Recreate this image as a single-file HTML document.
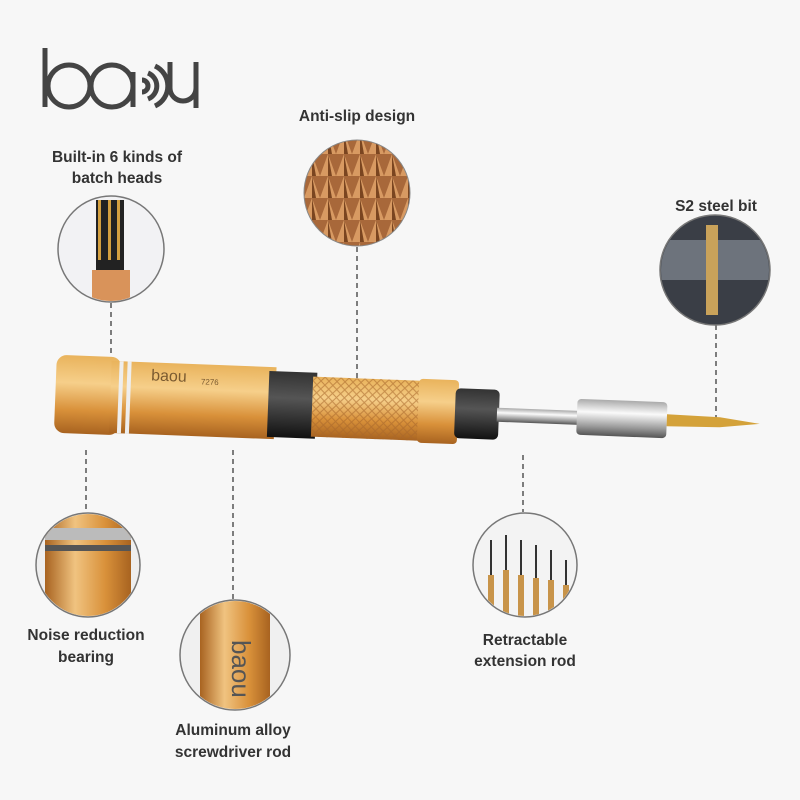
<!DOCTYPE html><html><head><style>body{margin:0;background:#f7f7f7}svg{display:block}text{font-family:"Liberation Sans",sans-serif;fill:#333}</style></head><body>
<svg width="800" height="800" viewBox="0 0 800 800">
<defs>
<linearGradient id="g" x1="0" y1="0" x2="0" y2="1"><stop offset="0" stop-color="#e9b35c"/><stop offset=".35" stop-color="#f6cf8a"/><stop offset=".7" stop-color="#d9913a"/><stop offset="1" stop-color="#a86320"/></linearGradient>
<linearGradient id="gh" x1="0" y1="0" x2="1" y2="0"><stop offset="0" stop-color="#a86320"/><stop offset=".35" stop-color="#f0c380"/><stop offset=".7" stop-color="#d9913a"/><stop offset="1" stop-color="#a86320"/></linearGradient>
<linearGradient id="s" x1="0" y1="0" x2="0" y2="1"><stop offset="0" stop-color="#aaa"/><stop offset=".35" stop-color="#fafafa"/><stop offset=".75" stop-color="#999"/><stop offset="1" stop-color="#555"/></linearGradient>
<linearGradient id="k" x1="0" y1="0" x2="0" y2="1"><stop offset="0" stop-color="#333"/><stop offset=".4" stop-color="#555"/><stop offset="1" stop-color="#111"/></linearGradient>
<pattern id="kn" width="8" height="8" patternUnits="userSpaceOnUse"><path d="M0 0L8 8M8 0L0 8" stroke="#a8672a" stroke-width="1" opacity=".6"/></pattern>
<pattern id="dia" width="16" height="22" patternUnits="userSpaceOnUse"><rect width="16" height="22" fill="#a8683a"/><path d="M8 0L16 22H0Z" fill="#d89a62"/><path d="M8 0L12 22H8Z" fill="#7a4520"/></pattern>
<clipPath id="c1"><circle cx="111" cy="249" r="52"/></clipPath>
<clipPath id="c3"><circle cx="715" cy="270" r="54"/></clipPath>
<clipPath id="c4"><circle cx="88" cy="565" r="51"/></clipPath>
<clipPath id="c5"><circle cx="235" cy="655" r="54"/></clipPath>
<clipPath id="c6"><circle cx="525" cy="565" r="51"/></clipPath>
</defs>
<rect width="800" height="800" fill="#f7f7f7"/>
<!-- logo -->
<g stroke="#444" stroke-width="5" fill="none">
<path d="M45 48V107"/><circle cx="69" cy="86" r="21"/>
<circle cx="112" cy="86" r="21"/><path d="M133 72V107"/>
<path d="M142 80a6 6 0 0 1 0 12M148 73a14 14 0 0 1 0 26M155 66a22 22 0 0 1 0 40"/>
<path d="M170 62V88a13 13 0 0 0 26 0V62M196 85V108"/>
</g>
<!-- labels -->
<g font-size="15.5" font-weight="bold" text-anchor="middle">
<text x="357" y="121">Anti-slip design</text>
<text x="117" y="162">Built-in 6 kinds of</text><text x="117" y="183">batch heads</text>
<text x="716" y="211">S2 steel bit</text>
<text x="86" y="640">Noise reduction</text><text x="86" y="662">bearing</text>
<text x="233" y="735">Aluminum alloy</text><text x="233" y="757">screwdriver rod</text>
<text x="525" y="645">Retractable</text><text x="525" y="666">extension rod</text>
</g>
<!-- dashed lines -->
<g stroke="#555" stroke-width="1.5" stroke-dasharray="5 4">
<path d="M111 303V368M357 247V388M716 325V425M86 450V512M233 450V600M523 455V512"/>
</g>
<!-- circles -->
<circle cx="111" cy="249" r="53" fill="#f2f2f4" stroke="#777" stroke-width="1.5"/>
<g clip-path="url(#c1)">
<rect x="96" y="200" width="28" height="70" fill="#222"/><rect x="98" y="200" width="3" height="60" fill="#d4a040"/><rect x="108" y="200" width="3" height="60" fill="#d4a040"/><rect x="117" y="200" width="3" height="60" fill="#d4a040"/>
<rect x="92" y="270" width="38" height="40" fill="#d9935a"/></g>
<circle cx="357" cy="193" r="53" fill="url(#dia)" stroke="#888"/>
<circle cx="715" cy="270" r="55" fill="#3a3e46" stroke="#777" stroke-width="1.5"/>
<g clip-path="url(#c3)"><rect x="660" y="240" width="110" height="40" fill="#6d737c"/><rect x="706" y="225" width="12" height="90" fill="#c9a25a"/></g>
<circle cx="88" cy="565" r="52" fill="#eee" stroke="#777" stroke-width="1.5"/>
<g clip-path="url(#c4)"><rect x="45" y="510" width="86" height="110" fill="url(#gh)"/><rect x="45" y="528" width="86" height="12" fill="#bbb"/><rect x="45" y="545" width="86" height="6" fill="#555"/></g>
<circle cx="235" cy="655" r="55" fill="#f0f0f0" stroke="#777" stroke-width="1.5"/>
<g clip-path="url(#c5)"><rect x="200" y="600" width="70" height="110" fill="url(#gh)"/><text x="232" y="640" font-size="26" transform="rotate(90 232 640)" style="fill:#555">baou</text></g>
<circle cx="525" cy="565" r="52" fill="#f3f3f3" stroke="#777" stroke-width="1.5"/>
<g clip-path="url(#c6)"><g fill="#c8944a"><rect x="488" y="575" width="6" height="50"/><rect x="503" y="570" width="6" height="55"/><rect x="518" y="575" width="6" height="52"/><rect x="533" y="578" width="6" height="50"/><rect x="548" y="580" width="6" height="48"/><rect x="563" y="585" width="6" height="40"/></g>
<g stroke="#333" stroke-width="2"><path d="M491 540V575M506 535V570M521 540V575M536 545V578M551 550V580M566 560V585"/></g></g>
<!-- screwdriver -->
<g transform="rotate(2.2 400 410)">
<rect x="55" y="368" width="65" height="78" rx="10" fill="url(#g)"/>
<rect x="110" y="372" width="165" height="72" fill="url(#g)"/>
<rect x="118" y="372" width="4" height="72" fill="#eee"/><rect x="126" y="372" width="4" height="72" fill="#eee"/>
<text x="150" y="390" font-size="16" style="fill:#7a5a30">baou</text><text x="200" y="392" font-size="8" style="fill:#7a5a30">7276</text>
<rect x="268" y="376" width="48" height="66" fill="url(#k)"/>
<rect x="312" y="380" width="108" height="60" fill="url(#g)"/><rect x="312" y="380" width="108" height="60" fill="url(#kn)"/>
<rect x="418" y="378" width="40" height="64" rx="4" fill="url(#g)"/>
<rect x="455" y="386" width="44" height="50" rx="5" fill="url(#k)"/>
<rect x="497" y="404" width="82" height="14" fill="url(#s)"/>
<rect x="577" y="392" width="90" height="36" rx="4" fill="url(#s)"/>
<polygon points="667,404 720,405 760,410 720,415 667,416" fill="#d4a23a"/>
</g>
</svg></body></html>
